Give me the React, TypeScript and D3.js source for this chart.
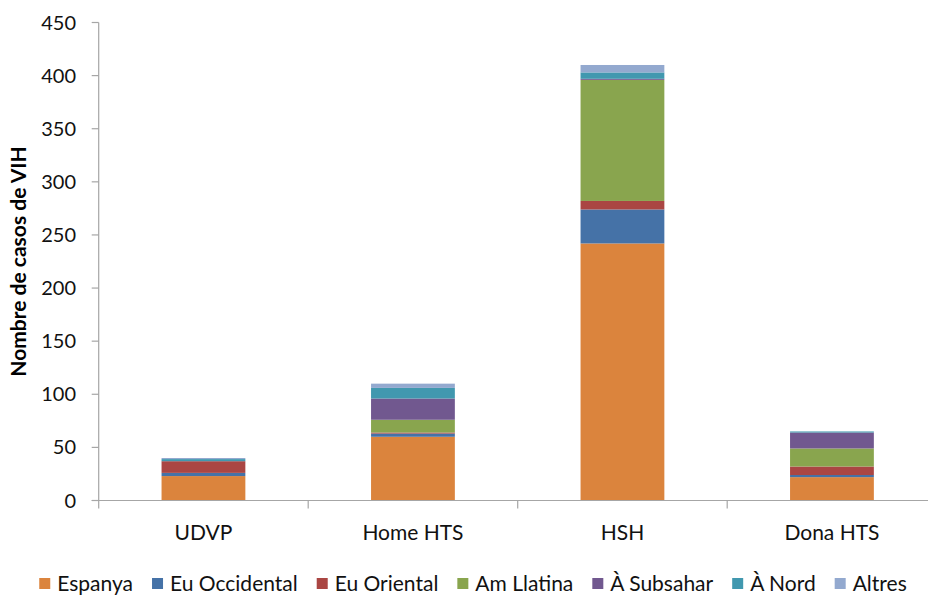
import { useRef, useEffect } from "react";
import * as d3 from "d3";

const categories = ["UDVP", "Home HTS", "HSH", "Dona HTS"];
const seriesNames = ["Espanya", "Eu Occidental", "Eu Oriental", "Am Llatina", "À Subsahar", "À Nord", "Altres"];
const colors = ["#DB843D", "#4572A7", "#AA4643", "#89A54E", "#71588F", "#4198AF", "#93A9CF"];

const espanya = [23, 60, 242, 22];
const euOccidental = [3, 3, 32, 2];
const euOriental = [11, 1, 8, 8];
const amLlatina = [0, 12, 114, 17];
const aSubsahar = [0, 20, 1, 15];
const aNord = [2, 10, 6, 1];
const altres = [1, 4, 7, 0];

const yTicks = [0, 50, 100, 150, 200, 250, 300, 350, 400, 450];

const W = 928;
const H = 597;
const FONT = "Lato, 'Open Sans', sans-serif";

export default function App() {
  const ref = useRef<SVGSVGElement>(null);

  useEffect(() => {
    const svg = d3.select(ref.current);
    svg.selectAll("*").remove();

    const allSeries = [espanya, euOccidental, euOriental, amLlatina, aSubsahar, aNord, altres];
    const rows = categories.map((c, i) => {
      const r: any = { cat: c };
      seriesNames.forEach((s, j) => (r[s] = allSeries[j][i]));
      return r;
    });

    const x = d3
      .scaleBand()
      .domain(categories)
      .range([98.7, 936.7])
      .paddingInner(0.6)
      .paddingOuter(0.3);
    const step = x.step();
    const x0 = 98.7;

    const y = d3.scaleLinear().domain([0, 450]).range([500.5, 22.5]);

    const stacked = d3.stack().keys(seriesNames)(rows);

    // bars
    svg
      .append("g")
      .selectAll("g")
      .data(stacked)
      .enter()
      .append("g")
      .attr("fill", (d, i) => colors[i])
      .selectAll("rect")
      .data((d) => d)
      .enter()
      .append("rect")
      .attr("x", (d: any) => x(d.data.cat)!)
      .attr("width", x.bandwidth())
      .attr("y", (d) => y(d[1]))
      .attr("height", (d) => y(d[0]) - y(d[1]));

    const axisColor = "#A6A6A6";

    // y axis
    svg
      .append("line")
      .attr("x1", x0)
      .attr("x2", x0)
      .attr("y1", y(450))
      .attr("y2", y(0) + 8)
      .attr("stroke", axisColor)
      .attr("stroke-width", 1.2);
    svg
      .append("g")
      .selectAll("line")
      .data(yTicks)
      .enter()
      .append("line")
      .attr("x1", x0 - 7)
      .attr("x2", x0)
      .attr("y1", (d) => y(d))
      .attr("y2", (d) => y(d))
      .attr("stroke", axisColor)
      .attr("stroke-width", 1.2);
    svg
      .append("g")
      .selectAll("text")
      .data(yTicks)
      .enter()
      .append("text")
      .text((d) => d)
      .attr("x", 76)
      .attr("y", (d) => y(d) + 7)
      .attr("text-anchor", "end")
      .attr("font-family", FONT)
      .attr("font-size", 20)
      .attr("fill", "#111");

    // x axis
    svg
      .append("line")
      .attr("x1", x0 - 7)
      .attr("x2", W)
      .attr("y1", y(0))
      .attr("y2", y(0))
      .attr("stroke", axisColor)
      .attr("stroke-width", 1.2);
    svg
      .append("g")
      .selectAll("line")
      .data([1, 2, 3])
      .enter()
      .append("line")
      .attr("x1", (d) => x0 + d * step)
      .attr("x2", (d) => x0 + d * step)
      .attr("y1", y(0))
      .attr("y2", y(0) + 8)
      .attr("stroke", axisColor)
      .attr("stroke-width", 1.2);
    svg
      .append("g")
      .selectAll("text")
      .data(categories)
      .enter()
      .append("text")
      .text((d) => d)
      .attr("x", (d) => x(d)! + x.bandwidth() / 2)
      .attr("y", 540)
      .attr("text-anchor", "middle")
      .attr("font-family", FONT)
      .attr("font-size", 21)
      .attr("fill", "#111");

    // y title
    svg
      .append("text")
      .text("Nombre de casos de VIH")
      .attr("transform", `translate(26, ${(y(0) + y(450)) / 2}) rotate(-90)`)
      .attr("text-anchor", "middle")
      .attr("font-family", FONT)
      .attr("font-weight", "bold")
      .attr("font-size", 21)
      .attr("fill", "#000");

    // legend
    const legend = svg.append("g");
    const items = legend
      .selectAll("g")
      .data(seriesNames)
      .enter()
      .append("g");
    items
      .append("text")
      .text((d) => d)
      .attr("y", 591)
      .attr("font-family", FONT)
      .attr("font-size", 21)
      .attr("fill", "#111");
    items
      .append("rect")
      .attr("width", 11)
      .attr("height", 11)
      .attr("y", 578)
      .attr("fill", (d, i) => colors[i]);

    const widths: number[] = [];
    items.select("text").each(function () {
      widths.push((this as SVGTextElement).getComputedTextLength());
    });
    const gap = 19;
    const total = d3.sum(widths) + widths.length * 18 + (widths.length - 1) * gap;
    let cx = 473 - total / 2;
    items.each(function (d, i) {
      const g = d3.select(this);
      g.select("rect").attr("x", cx);
      g.select("text").attr("x", cx + 18);
      cx += 18 + widths[i] + gap;
    });
  }, []);

  return (
    <svg
      ref={ref}
      width={W}
      height={H}
      style={{ position: "absolute", left: 0, top: 0, background: "#fff" }}
    />
  );
}
